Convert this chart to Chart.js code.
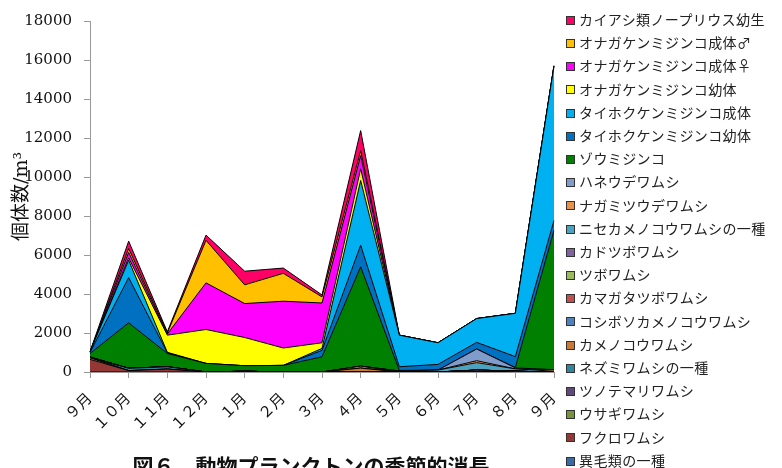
<!DOCTYPE html>
<html lang="ja">
<head>
<meta charset="utf-8">
<script src="https://cdn.jsdelivr.net/npm/chart.js@4/dist/chart.umd.min.js"></script>
<style>
  html, body { margin: 0; padding: 0; background: #fff; overflow: hidden; }
  #wrap { position: relative; width: 782px; height: 468px; }
  #legend { position: absolute; left: 566px; top: 0; font-family: 'Noto Sans CJK JP', sans-serif; font-size: 14px; color: #222; }
  .item { position: absolute; left: 0; height: 20px; line-height: 20px; white-space: nowrap; letter-spacing: 0.4px; }
  .box { display: inline-block; width: 7px; height: 7px; border: 1px solid #333; vertical-align: middle; margin-right: 4px; position: relative; top: -1px; }
  #caption { position: absolute; top: 450px; left: 0; width: 622px; text-align: center; font: bold 21px 'Noto Sans CJK JP', sans-serif; color: #111; }
</style>
</head>
<body>
<div id="wrap">
  <canvas id="grafico" width="782" height="468"></canvas>
  <div id="legend"></div>
  <div id="caption">図６　動物プランクトンの季節的消長</div>
</div>
<script>
var meses = ['９月', '１０月', '１１月', '１２月', '１月', '２月', '３月', '４月', '５月', '６月', '７月', '８月', '９月'];
var ticksY = [0, 2000, 4000, 6000, 8000, 10000, 12000, 14000, 16000, 18000];

// 個体数/m3, 下の層から順に
var igorui      = [0, 0, 0, 0, 0, 0, 0, 0, 0, 0, 0, 40, 0];
var fukuro      = [650, 70, 150, 0, 40, 0, 0, 0, 0, 0, 0, 0, 0];
var usagi       = [80, 0, 0, 0, 0, 0, 0, 0, 0, 0, 0, 0, 0];
var tsunotemari = [0, 0, 0, 0, 0, 0, 0, 0, 0, 0, 100, 0, 0];
var nezumi      = [0, 120, 120, 0, 0, 0, 0, 0, 0, 0, 0, 0, 0];
var kamenokou   = [0, 0, 0, 0, 0, 0, 0, 200, 0, 0, 0, 0, 0];
var koshiboso   = [0, 0, 0, 0, 0, 0, 0, 0, 0, 0, 0, 0, 0];
var kamagata    = [0, 0, 0, 0, 0, 0, 0, 0, 0, 0, 0, 0, 0];
var tsubo       = [40, 0, 0, 0, 0, 0, 0, 100, 0, 0, 0, 0, 0];
var kadotsubo   = [0, 0, 0, 0, 0, 0, 0, 0, 0, 0, 0, 0, 0];
var nisekame    = [0, 0, 0, 0, 0, 0, 0, 0, 50, 100, 380, 120, 40];
var nagamitsu   = [0, 0, 0, 0, 0, 0, 0, 0, 0, 0, 100, 0, 80];
var haneude     = [0, 0, 0, 0, 0, 0, 0, 0, 0, 0, 600, 50, 0];
var zou         = [180, 2330, 680, 440, 280, 340, 780, 5090, 30, 0, 0, 20, 7140];
var taihokuYou  = [50, 2320, 30, 0, 0, 0, 330, 1110, 190, 290, 340, 560, 510];
var taihokuSei  = [40, 890, 30, 0, 0, 0, 100, 3320, 1620, 1110, 1220, 2220, 7930];
var onagaYou    = [0, 120, 880, 1740, 1450, 890, 290, 600, 0, 0, 0, 0, 0];
var onagaMesu   = [0, 280, 60, 2390, 1740, 2400, 2040, 680, 0, 0, 0, 0, 0];
var onagaOsu    = [0, 200, 50, 2180, 960, 1430, 310, 250, 0, 0, 0, 0, 0];
var nauplius    = [0, 380, 60, 270, 700, 270, 100, 1030, 0, 0, 0, 0, 0];

var series = [
  { label: '異毛類の一種', data: igorui, color: '#3C6AA4' },
  { label: 'フクロワムシ', data: fukuro, color: '#953735' },
  { label: 'ウサギワムシ', data: usagi, color: '#77933C' },
  { label: 'ツノテマリワムシ', data: tsunotemari, color: '#604A7B' },
  { label: 'ネズミワムシの一種', data: nezumi, color: '#31859C' },
  { label: 'カメノコウワムシ', data: kamenokou, color: '#CC7733' },
  { label: 'コシボソカメノコウワムシ', data: koshiboso, color: '#4F81BD' },
  { label: 'カマガタツボワムシ', data: kamagata, color: '#C0504D' },
  { label: 'ツボワムシ', data: tsubo, color: '#9BBB59' },
  { label: 'カドツボワムシ', data: kadotsubo, color: '#8064A2' },
  { label: 'ニセカメノコウワムシの一種', data: nisekame, color: '#4BA3C0' },
  { label: 'ナガミツウデワムシ', data: nagamitsu, color: '#E8914A' },
  { label: 'ハネウデワムシ', data: haneude, color: '#7F9CCB' },
  { label: 'ゾウミジンコ', data: zou, color: '#008000' },
  { label: 'タイホクケンミジンコ幼体', data: taihokuYou, color: '#0070C0' },
  { label: 'タイホクケンミジンコ成体', data: taihokuSei, color: '#00B0F0' },
  { label: 'オナガケンミジンコ幼体', data: onagaYou, color: '#FFFF00' },
  { label: 'オナガケンミジンコ成体♀', data: onagaMesu, color: '#FF00FF' },
  { label: 'オナガケンミジンコ成体♂', data: onagaOsu, color: '#FFC000' },
  { label: 'カイアシ類ノープリウス幼生', data: nauplius, color: '#FF0066' }
];

var datasets = series.map(function (s, i) {
  return {
    label: s.label,
    data: s.data,
    backgroundColor: s.color,
    borderColor: '#000',
    borderWidth: 1,
    fill: i === 0 ? 'origin' : '-1',
    pointRadius: 0,
    tension: 0
  };
});

// 凡例は上の層から
var legend = document.getElementById('legend');
series.slice().reverse().forEach(function (s, i) {
  var item = document.createElement('div');
  item.className = 'item';
  item.style.top = (9 + i * 23.2) + 'px';
  var box = document.createElement('span');
  box.className = 'box';
  box.style.background = s.color;
  item.appendChild(box);
  item.appendChild(document.createTextNode(s.label));
  legend.appendChild(item);
});

new Chart(document.getElementById('grafico'), {
  type: 'line',
  data: { labels: meses, datasets: datasets },
  options: {
    responsive: false,
    animation: false,
    layout: { padding: { top: 20, right: 228, bottom: 0, left: 0 } },
    plugins: {
      legend: { display: false },
      tooltip: { enabled: false }
    },
    scales: {
      x: {
        offset: false,
        afterFit: function (scale) { scale.height = 96; },
        grid: { drawOnChartArea: false, tickLength: 6, color: '#999' },
        border: { color: '#999' },
        ticks: {
          minRotation: 45,
          maxRotation: 45,
          padding: 12,
          color: '#111',
          font: { family: "'DejaVu Serif', 'Noto Sans CJK JP'", size: 15 }
        }
      },
      y: {
        stacked: true,
        min: 0,
        max: 18000,
        afterFit: function (scale) { scale.width = 90; },
        afterBuildTicks: function (scale) {
          scale.ticks = ticksY.map(function (v) { return { value: v }; });
        },
        grid: { drawOnChartArea: false, tickLength: 6, color: '#999' },
        border: { color: '#999' },
        title: {
          display: true,
          text: '個体数/m³',
          padding: { top: 11, bottom: 0 },
          color: '#111',
          font: { family: "'DejaVu Serif', 'Noto Sans CJK JP'", size: 19 }
        },
        ticks: {
          padding: 12,
          color: '#111',
          font: { family: "'DejaVu Serif'", size: 15 },
          callback: function (v) { return String(v); }
        }
      }
    }
  }
});
</script>
</body>
</html>
